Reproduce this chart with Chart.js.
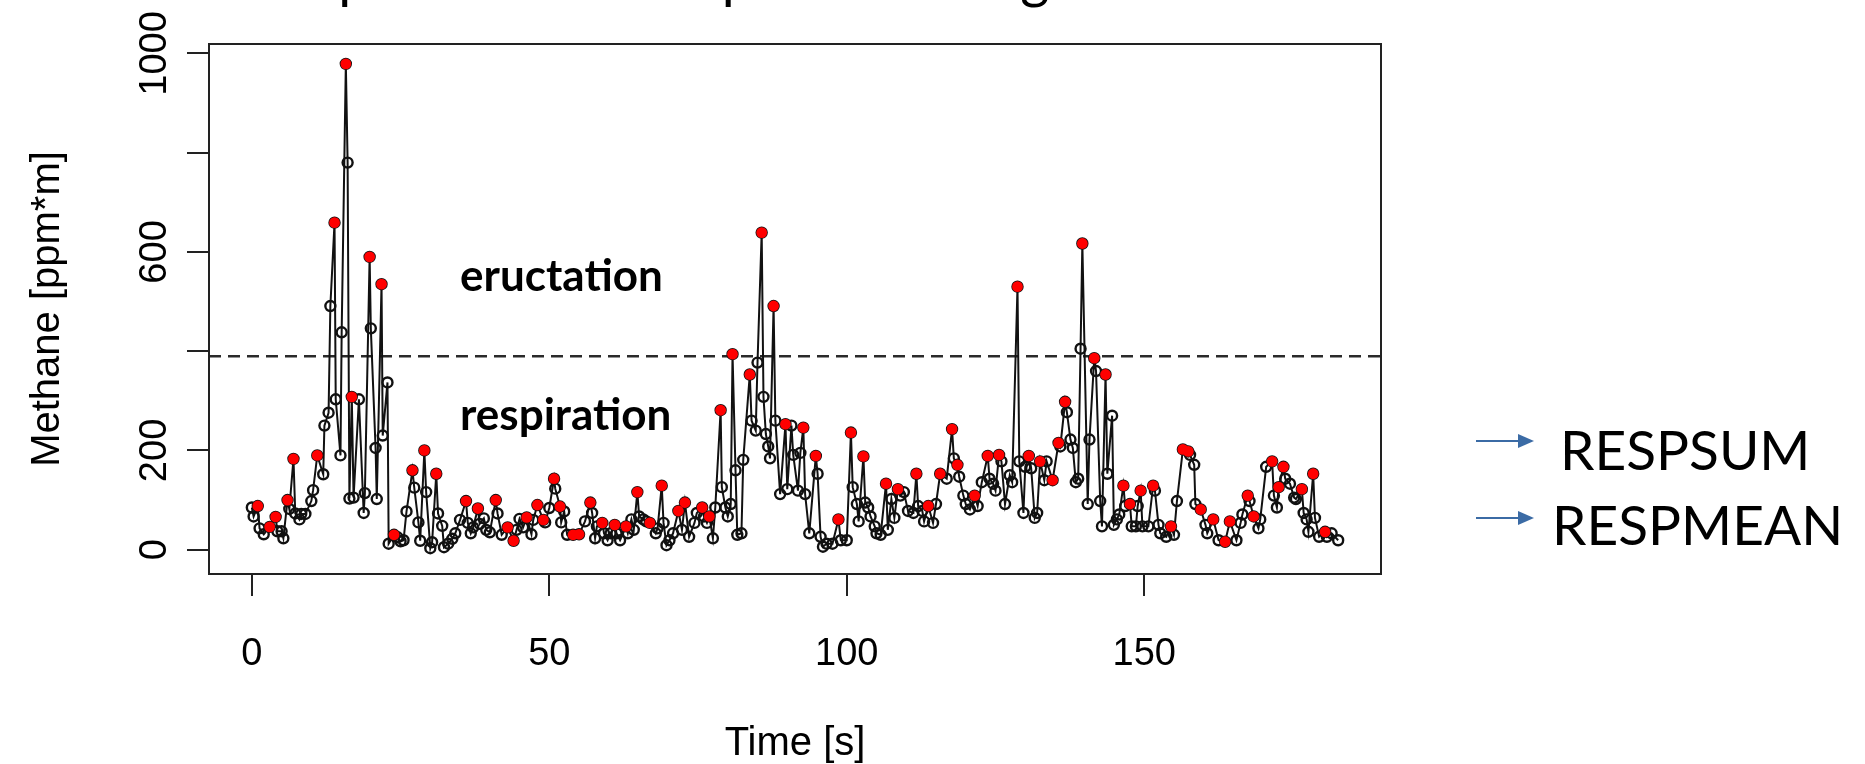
<!DOCTYPE html>
<html>
<head>
<meta charset="utf-8">
<script src="https://cdn.jsdelivr.net/npm/chart.js@4.4.1/dist/chart.umd.min.js"></script>
<style>
  html, body { margin: 0; padding: 0; background: #fff; }
  canvas { display: block; }
</style>
</head>
<body>
<canvas id="methaneChart" width="1865" height="764"></canvas>
<script>
// Tiempo de cada lectura [s]
const times = [
  0, 0.3, 1.0, 1.3, 2.0, 3.0, 4.0, 4.3, 5.0, 5.3,
  6.0, 6.3, 7.0, 7.3, 8.0, 8.3, 9.0, 10.0, 10.3, 11.0,
  12.0, 12.2, 12.9, 13.2, 13.9, 14.1, 14.9, 15.1, 15.8, 16.1,
  16.4, 16.8, 17.1, 18.0, 18.8, 19.0, 19.8, 20.0, 20.8, 21.0,
  21.8, 22.0, 22.8, 23.0, 23.9,
  24.5, 25.0, 25.5, 26.0, 27.0, 27.3, 28.0, 28.3, 29.0, 29.3,
  30.0, 30.3, 31.0, 31.3, 32.0, 32.3, 33.0, 33.7, 34.2, 35.0,
  36.0, 36.3, 36.8, 37.2, 38.0, 38.3, 39.0, 39.4, 40.0, 41.0,
  41.3, 42.0, 43.0, 44.0, 44.5, 45.0, 45.6, 46.2, 47.0, 47.3,
  48.0, 49.0, 49.3, 50.0, 50.8, 51.0, 51.8, 52.0, 52.5, 53.0,
  54.0, 55.0,
  56.0, 56.9, 57.2, 57.7, 58.0, 58.9, 59.2, 59.8, 60.3, 61.0,
  61.3, 61.9, 62.9, 63.2, 63.8, 64.2, 64.8, 65.1, 65.8, 66.3,
  66.9, 67.9, 68.2, 68.9, 69.2, 69.7, 70.2, 70.8, 71.7, 72.3,
  72.8, 73.5, 74.4, 74.8, 75.7, 76.0, 76.5, 76.9, 77.5, 77.9,
  78.8, 79.0, 79.6, 80.0, 80.5, 80.8, 81.3, 81.6, 82.3, 82.6,
  83.7, 84.0, 84.7, 85.0, 85.7, 86.0, 86.4, 86.8, 87.1, 87.7,
  88.0, 88.8, 89.7, 90.0, 90.7, 91.0, 91.8, 92.2, 92.7, 93.0,
  93.7, 94.8, 95.1, 95.6, 96.0, 96.6, 97.6, 98.6, 99.0, 100.0,
  100.7, 101.0, 101.7, 102.0, 102.8, 103.1, 103.6, 104.0, 104.7, 105.0,
  105.7, 106.6, 106.9, 107.5, 108.0, 108.6, 109.0, 109.6, 110.3, 111.2,
  111.7, 112.0, 112.7, 113.0, 113.7, 114.5, 115.0, 115.7, 116.8, 117.7,
  118.0, 118.6, 118.9, 119.6, 120.0, 120.7, 121.5, 122.0, 122.7, 123.7,
  124.0, 124.6, 125.0, 125.6, 126.0, 126.6, 127.4, 127.8, 128.7, 129.0,
  129.7, 130.0, 130.6, 131.0, 131.6, 132.0, 132.5, 133.2, 133.6, 134.6,
  135.6, 135.9, 136.7, 137.0, 137.6, 138.0, 138.5, 138.9, 139.3, 139.6,
  140.5, 140.8, 141.6, 141.9, 142.6, 142.9, 143.5, 143.8, 144.6, 144.9,
  145.4, 145.8, 146.5, 146.8, 147.6, 147.9, 148.6, 148.9, 149.4, 149.7,
  150.7, 151.5, 151.8, 152.4, 152.7, 153.7, 154.5, 155.0, 155.5, 156.5,
  157.4, 157.7, 158.4, 158.6, 159.5, 160.3, 160.6, 161.6, 162.5, 163.6,
  164.4, 165.5, 166.2, 166.5, 167.4, 167.7, 168.4, 169.2, 169.5, 170.5,
  171.5, 171.8, 172.3, 172.6, 173.4, 173.7, 174.5, 175.2, 175.5, 176.5,
  176.8, 177.3, 177.6, 178.4, 178.7, 179.4, 180.4, 180.7, 181.5, 182.6
];

// Metano [ppm*m] para cada tiempo
const methane = [
  85, 67, 88, 43, 31, 46, 66, 37, 37, 23,
  100, 82, 183, 73, 61, 72, 72, 98, 120, 190,
  152, 250, 276, 491, 659, 303, 190, 438, 979, 780,
  103, 308, 105, 303, 74, 114, 590, 446, 205, 102,
  535, 230, 337, 12, 30,
  25, 17, 19, 77, 160, 125, 55, 18, 200, 116,
  3, 15, 153, 73, 48, 5, 12, 22, 33, 60,
  98, 54, 33, 45, 83, 52, 63, 40, 35, 100,
  73, 30, 45, 18, 40, 62, 45, 65, 31, 60,
  90, 60, 55, 84, 143, 123, 87, 55, 77, 30,
  30, 31,
  57, 95, 74, 23, 47, 54, 33, 19, 33, 50,
  33, 19, 47, 33, 61, 40, 116, 67, 61, 57,
  54, 33, 43, 129, 54, 9, 19, 33, 78, 40,
  95, 26, 54, 74, 85, 67, 54, 67, 23, 85,
  281, 126, 85, 67, 92, 394, 160, 30, 33, 181,
  353, 260, 240, 377, 639, 308, 233, 208, 184, 491,
  260, 112, 253, 122, 250, 191, 119, 195, 246, 112,
  33, 189, 153, 26, 6, 12, 12, 61, 19, 19,
  236, 126, 92, 57, 188, 95, 85, 67, 47, 33,
  30, 133, 40, 102, 64, 122, 109, 116, 78, 74,
  153, 88, 78, 57, 88, 54, 92, 153, 143, 243,
  184, 171, 147, 109, 92, 81, 109, 88, 136, 189,
  143, 133, 119, 191, 178, 92, 150, 136, 530, 178,
  74, 167, 189, 164, 64, 74, 178, 140, 178, 140,
  215, 208, 298, 277, 222, 205, 136, 143, 405, 617,
  92, 222, 386, 360, 98, 47, 353, 153, 270, 50,
  61, 71, 129, 88, 92, 47, 47, 88, 119, 47,
  47, 129, 119, 50, 33, 26, 47, 30, 98, 202,
  198, 191, 171, 92, 81, 50, 33, 61, 19, 16,
  57, 19, 54, 71, 109, 98, 67, 43, 61, 167,
  178, 109, 85, 126, 167, 143, 133, 105, 102, 122,
  74, 61, 36, 153, 64, 26, 36, 26, 33, 19
];

// Tiempos de los picos marcados en rojo
const peakTimes = [
  1.0, 3.0, 4.0, 6.0, 7.0, 11.0, 13.9, 15.8, 16.8, 19.8, 21.8, 23.9,
  27.0, 29.0, 31.0, 36.0, 38.0, 41.0, 43.0, 44.0, 46.2, 48.0, 49.0, 50.8, 51.8, 54.0, 55.0,
  56.9, 58.9, 61.0, 62.9, 64.8, 66.9, 68.9, 71.7, 72.8, 75.7, 76.9, 78.8, 80.8, 83.7,
  85.7, 87.7, 89.7, 92.7, 94.8, 98.6,
  100.7, 102.8, 106.6, 108.6, 111.7, 113.7, 115.7, 117.7, 118.6, 121.5, 123.7, 125.6,
  128.7, 130.6, 132.5, 134.6, 135.6, 136.7, 139.6, 141.6, 143.5, 146.5, 147.6, 149.4,
  151.5, 154.5, 156.5, 157.4, 159.5, 161.6, 163.6, 164.4, 167.4, 168.4, 171.5, 172.6,
  173.4, 176.5, 178.4, 180.4
];

// Ejes y etiquetas
const xTicks = [0, 50, 100, 150];
const yTicks = [0, 200, 400, 600, 800, 1000];
const yTickLabels = ['0', '200', '', '600', '', '1000'];
const eructationThreshold = 390;
const zoneLabels = ['eructation', 'respiration'];
const sideLabels = ['RESPSUM', 'RESPMEAN'];
const cutTitle = 'Example of methane profile during';

const seriesPoints = times.map((t, i) => ({ x: t, y: methane[i] }));
const peakPoints = peakTimes.map(t => ({ x: t, y: methane[times.indexOf(t)] }));

const tickFont = { family: "'Liberation Sans', Arial, sans-serif", size: 38, lineHeight: 1 };
const titleFont = { family: "'Liberation Sans', Arial, sans-serif", size: 40, lineHeight: 1 };

// Dibuja la flecha azul hacia cada etiqueta lateral
function drawArrow(ctx, x0, x1, yPix) {
  ctx.strokeStyle = '#3b6ba5';
  ctx.fillStyle = '#3b6ba5';
  ctx.lineWidth = 2;
  ctx.beginPath();
  ctx.moveTo(x0, yPix);
  ctx.lineTo(x1 - 12, yPix);
  ctx.stroke();
  ctx.beginPath();
  ctx.moveTo(x1, yPix);
  ctx.lineTo(x1 - 16, yPix - 7);
  ctx.lineTo(x1 - 16, yPix + 7);
  ctx.closePath();
  ctx.fill();
}

const decorations = {
  id: 'decorations',
  beforeDatasetsDraw(chart) {
    const { ctx, chartArea: a, scales: { y } } = chart;
    const yPix = y.getPixelForValue(eructationThreshold);
    ctx.save();
    ctx.strokeStyle = '#2a2a2a';
    ctx.lineWidth = 2.5;
    ctx.setLineDash([12, 7]);
    ctx.beginPath();
    ctx.moveTo(a.left, yPix);
    ctx.lineTo(a.right, yPix);
    ctx.stroke();
    ctx.restore();
  },
  afterDraw(chart) {
    const { ctx, chartArea: a, scales: { x, y } } = chart;
    ctx.save();

    // Caja alrededor del área del gráfico
    ctx.strokeStyle = '#222';
    ctx.lineWidth = 2;
    ctx.strokeRect(a.left, a.top, a.right - a.left, a.bottom - a.top);

    // Etiquetas de zona dentro del gráfico
    ctx.fillStyle = '#000';
    ctx.font = 'bold 44px Lato, sans-serif';
    ctx.textAlign = 'left';
    ctx.textBaseline = 'middle';
    ctx.fillText(zoneLabels[0], x.getPixelForValue(35), y.getPixelForValue(550));
    ctx.fillText(zoneLabels[1], x.getPixelForValue(35), y.getPixelForValue(270));

    // Flechas y etiquetas de la derecha
    drawArrow(ctx, 1476, 1534, 441);
    drawArrow(ctx, 1476, 1534, 518);
    ctx.fillStyle = '#000';
    ctx.font = '55px Lato, sans-serif';
    ctx.textAlign = 'left';
    ctx.textBaseline = 'middle';
    ctx.fillText(sideLabels[0], 1560, 452);
    ctx.fillText(sideLabels[1], 1552, 527);

    // Título recortado en el borde superior
    ctx.font = '56px Lato, sans-serif';
    ctx.textBaseline = 'alphabetic';
    const startX = 354 - ctx.measureText('Exam').width - ctx.measureText('p').width / 2;
    ctx.fillText(cutTitle, startX, -3);

    ctx.restore();
  }
};

new Chart(document.getElementById('methaneChart').getContext('2d'), {
  type: 'scatter',
  data: {
    datasets: [
      {
        label: 'peaks',
        data: peakPoints,
        showLine: false,
        pointRadius: 5.4,
        pointBackgroundColor: '#ff0000',
        pointBorderColor: '#ff0000',
        pointBorderWidth: 0,
        order: 0
      },
      {
        label: 'methane',
        data: seriesPoints,
        showLine: true,
        borderColor: '#111',
        borderWidth: 2,
        pointRadius: 5,
        pointBorderWidth: 2.4,
        pointBorderColor: '#111',
        pointBackgroundColor: 'rgba(0,0,0,0)',
        order: 1
      }
    ]
  },
  options: {
    responsive: false,
    animation: false,
    devicePixelRatio: 1,
    layout: { padding: { left: 0, right: 484, top: 44, bottom: 0 } },
    plugins: {
      legend: { display: false },
      tooltip: { enabled: false }
    },
    scales: {
      x: {
        type: 'linear',
        min: -7.2,
        max: 189.8,
        afterBuildTicks: s => { s.ticks = xTicks.map(v => ({ value: v })); },
        afterFit: s => { s.height = 190; },
        grid: { drawOnChartArea: false, drawTicks: true, tickLength: 22, color: '#222', lineWidth: 2 },
        border: { display: true, color: '#222', width: 2 },
        ticks: {
          autoSkip: false,
          maxRotation: 0,
          padding: 40,
          color: '#000',
          font: tickFont,
          callback: v => String(v)
        },
        title: {
          display: true,
          text: 'Time [s]',
          color: '#000',
          font: titleFont,
          padding: { top: 0, bottom: 0 }
        }
      },
      y: {
        type: 'linear',
        min: -49,
        max: 1019,
        afterBuildTicks: s => { s.ticks = yTicks.map(v => ({ value: v })); },
        afterFit: s => { s.width = 209; },
        grid: { drawOnChartArea: false, drawTicks: true, tickLength: 22, color: '#222', lineWidth: 2 },
        border: { display: true, color: '#222', width: 2 },
        ticks: {
          autoSkip: false,
          minRotation: 90,
          maxRotation: 90,
          crossAlign: 'center',
          padding: -11,
          color: '#000',
          font: tickFont,
          callback: v => yTickLabels[yTicks.indexOf(v)]
        },
        title: {
          display: true,
          text: 'Methane [ppm*m]',
          color: '#000',
          font: titleFont,
          padding: { top: 28, bottom: 0 }
        }
      }
    }
  },
  plugins: [decorations]
});
</script>
</body>
</html>
